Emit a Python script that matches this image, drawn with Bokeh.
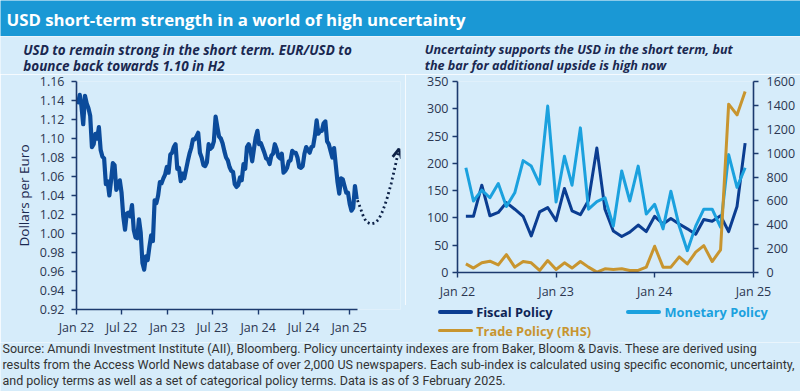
import pandas as pd
from bokeh.plotting import figure
from bokeh.models import (Range1d, LinearAxis, FixedTicker, DatetimeTickFormatter,
                          NumeralTickFormatter, Label, Arrow, OpenHead, Div)
from bokeh.layouts import column, row
from bokeh.embed import file_html
from bokeh.resources import INLINE

# ---------------- data ----------------
eur_usd = [
    # 2022
    1.136, 1.146, 1.134, 1.115,
    1.145, 1.137, 1.132, 1.124,
    1.091, 1.094, 1.105, 1.100,
    1.112, 1.088, 1.081, 1.079, 1.052,
    1.055, 1.040, 1.056, 1.074,
    1.072, 1.046, 1.050, 1.056,
    1.043, 1.018, 1.004, 1.021, 1.022,
    1.018, 1.030, 1.004, 0.996,
    0.995, 1.015, 1.001, 0.969, 0.962,
    0.976, 0.972, 0.986, 0.998,
    0.992, 1.035, 1.032, 1.040,
    1.054, 1.053, 1.058, 1.062, 1.070,
    # 2023
    1.064, 1.083, 1.085, 1.091,
    1.094, 1.068, 1.069, 1.055,
    1.063, 1.058, 1.067, 1.076, 1.084,
    1.090, 1.099, 1.099, 1.102,
    1.106, 1.085, 1.080, 1.072,
    1.071, 1.075, 1.094, 1.089, 1.091,
    1.097, 1.123, 1.112, 1.102,
    1.100, 1.095, 1.087, 1.080,
    1.077, 1.070, 1.066, 1.065, 1.052,
    1.049, 1.051, 1.059, 1.056,
    1.073, 1.068, 1.091, 1.094,
    1.088, 1.076, 1.089, 1.101, 1.108,
    # 2024
    1.094, 1.095, 1.090, 1.085,
    1.079, 1.078, 1.073, 1.082,
    1.084, 1.094, 1.089, 1.081, 1.079,
    1.084, 1.064, 1.066, 1.069,
    1.076, 1.077, 1.087, 1.085, 1.085,
    1.080, 1.070, 1.069, 1.071,
    1.084, 1.091, 1.088, 1.085,
    1.091, 1.092, 1.103, 1.119, 1.105,
    1.108, 1.108, 1.116, 1.118,
    1.097, 1.094, 1.087, 1.080,
    1.090, 1.072, 1.054, 1.042, 1.058,
    1.057, 1.050, 1.043, 1.043,
    # 2025
    1.031, 1.024, 1.027, 1.050, 1.036,
]
eur_dates = pd.date_range("2022-01-07", periods=len(eur_usd), freq="W-FRI")

outlook_dates = pd.to_datetime([
    "2025-02-03", "2025-02-16", "2025-02-28", "2025-03-12", "2025-03-29", "2025-04-14",
    "2025-04-30", "2025-05-16", "2025-06-01", "2025-06-18", "2025-07-04", "2025-07-20"])
outlook_values = [1.035, 1.026, 1.017, 1.012, 1.010, 1.011, 1.015, 1.024, 1.036, 1.052, 1.070, 1.089]

left_x_ticks = ["2022-01-01", "2022-07-01", "2023-01-01", "2023-07-01",
                "2024-01-01", "2024-07-01", "2025-01-01"]
left_y_ticks = [0.92, 0.94, 0.96, 0.98, 1.00, 1.02, 1.04, 1.06, 1.08, 1.10, 1.12, 1.14, 1.16]

months = pd.date_range("2022-02-01", "2024-12-01", freq="MS")
fiscal = [103, 103, 160, 104, 110, 128, 116, 103, 67, 111,
          119, 95, 154, 113, 106, 132, 228, 116, 76, 66,
          74, 87, 75, 103, 89, 99, 89, 80, 70, 97,
          94, 104, 75, 121, 237]
monetary = [192, 131, 151, 137, 163, 121, 146, 205, 195, 162,
            305, 129, 213, 160, 265, 116, 130, 137, 85, 186,
            131, 195, 107, 125, 80, 149, 85, 40, 85, 116,
            116, 83, 216, 156, 192]
trade = [72, 37, 81, 95, 64, 150, 45, 92, 81, 17,
         100, 25, 81, 37, 92, 45, 3, 31, 25, 31,
         17, 17, 45, 220, 45, 45, 131, 72, 170, 225,
         92, 190, 1410, 1320, 1517]
right_x_ticks = ["2022-01-01", "2023-01-01", "2024-01-01", "2025-01-01"]
lhs_ticks = [0, 50, 100, 150, 200, 250, 300, 350]
rhs_ticks = [0, 200, 400, 600, 800, 1000, 1200, 1400, 1600]

title_text = "USD short-term strength in a world of high uncertainty"
left_subtitle = ["USD to remain strong in the short term. EUR/USD to",
                 "bounce back towards 1.10 in H2"]
right_subtitle = ["Uncertainty supports the USD in the short term, but",
                  "the bar for additional upside is high now"]
series_names = ["Fiscal Policy", "Monetary Policy", "Trade Policy (RHS)"]
foot = ["Source: Amundi Investment Institute (AII), Bloomberg. Policy uncertainty indexes are from Baker, Bloom & Davis. These are derived using",
        "results from the Access World News database of over 2,000 US newspapers. Each sub-index is calculated using specific economic, uncertainty,",
        "and policy terms as well as a set of categorical policy terms. Data is as of 3 February 2025."]

# ---------------- style ----------------
BG = "#d6ecfa"
BANNER = "#1a98d5"
EUR = "#0b4b9b"
DOT = "#0d2147"
FISCAL = "#0b3d91"
MONETARY = "#1ba1de"
TRADE = "#c8952f"
FISCAL_TXT = "#0e2455"
AXIS = "#1c3a6e"
TXT = "#1a2850"
TICK = "#2b3650"
FONT = "Open Sans"
W = 800


def ms(d):
    return pd.Timestamp(d).value / 1e6


def style_axis(ax):
    ax.axis_line_color = AXIS
    ax.axis_line_width = 1.6
    ax.major_tick_line_color = AXIS
    ax.major_tick_line_width = 1.4
    ax.major_tick_in = 0
    ax.major_tick_out = 5
    ax.minor_tick_line_color = None
    ax.major_label_text_color = TICK
    ax.major_label_text_font = FONT
    ax.major_label_text_font_size = "12.5px"


def base_fig(**kw):
    p = figure(output_backend="svg", toolbar_location=None,
               background_fill_color=BG, border_fill_color=BG,
               outline_line_color=None, **kw)
    p.grid.visible = False
    return p


def blank_fig(width, height, color=BG):
    p = figure(width=width, height=height, output_backend="svg", toolbar_location=None,
               x_axis_location=None, y_axis_location=None, min_border=0,
               background_fill_color=color, border_fill_color=color,
               outline_line_color=None, x_range=Range1d(0, 1), y_range=Range1d(0, 1))
    p.grid.visible = False
    return p


# ---------------- banner ----------------
pb = blank_fig(W, 36, BANNER)
pb.add_layout(Label(x=6, y=17.5, x_units="screen", y_units="screen", text=title_text,
                    text_baseline="middle", text_color="white", text_font=FONT,
                    text_font_size="16.8px", text_font_style="bold"))

# ---------------- subtitles ----------------
ps = blank_fig(W, 38)
for xs, size, lines in [(22.7, "13.5px", left_subtitle), (424.3, "12.6px", right_subtitle)]:
    for i, t in enumerate(lines):
        ps.add_layout(Label(x=xs, y=25 - 16 * i, x_units="screen", y_units="screen",
                            text=t, text_baseline="middle", text_color=TXT,
                            text_font=FONT, text_font_size=size,
                            text_font_style="bold italic"))

# ---------------- left chart ----------------
x0 = pd.Timestamp("2022-01-01")
x1 = pd.Timestamp("2025-07-26")
pl = base_fig(width=405, height=268, x_axis_type="datetime",
              x_range=Range1d(x0, x1), y_range=Range1d(0.92, 1.16),
              min_border_left=76, min_border_right=5, min_border_top=7, min_border_bottom=33)
pl.line(eur_dates, eur_usd, line_width=4.2, color=EUR, line_join="round")
pl.line(outlook_dates, outlook_values, line_width=2.8, color=DOT, line_dash="2 3")
pl.add_layout(Arrow(end=OpenHead(size=9, line_width=2.8, line_color=DOT),
                    x_start=ms(outlook_dates[-2]), y_start=outlook_values[-2],
                    x_end=ms(outlook_dates[-1]), y_end=outlook_values[-1],
                    line_alpha=0))
pl.xaxis.ticker = FixedTicker(ticks=[ms(t) for t in left_x_ticks])
fmt = "%b %y"
pl.xaxis.formatter = DatetimeTickFormatter(days=fmt, months=fmt, years=fmt)
pl.xaxis.bounds = (ms(x0), ms(eur_dates[-1]) + 4 * 86400000)
pl.yaxis.ticker = FixedTicker(ticks=left_y_ticks)
pl.yaxis.formatter = NumeralTickFormatter(format="0.00")
for ax in (pl.xaxis[0], pl.yaxis[0]):
    style_axis(ax)
pl.xaxis.major_label_standoff = 4
pl.yaxis.major_label_standoff = 7
pl.yaxis.axis_label = "Dollars per Euro"
pl.yaxis.axis_label_text_font = FONT
pl.yaxis.axis_label_text_font_style = "normal"
pl.yaxis.axis_label_text_font_size = "13.5px"
pl.yaxis.axis_label_text_color = TXT
pl.yaxis.axis_label_standoff = 4

# ---------------- right chart ----------------
pr = base_fig(width=395, height=231, x_axis_type="datetime",
              x_range=Range1d(pd.Timestamp("2022-01-01"), pd.Timestamp("2025-01-01")),
              y_range=Range1d(0, 350),
              min_border_left=52, min_border_right=47, min_border_top=7, min_border_bottom=33)
pr.extra_y_ranges = {"rhs": Range1d(0, 1600)}
rax = LinearAxis(y_range_name="rhs", ticker=FixedTicker(ticks=rhs_ticks))
pr.add_layout(rax, "right")
pr.line(months, fiscal, color=FISCAL, line_width=3, line_join="round")
pr.line(months, monetary, color=MONETARY, line_width=3, line_join="round")
pr.line(months, trade, color=TRADE, line_width=3, line_join="round", y_range_name="rhs")
pr.xaxis.ticker = FixedTicker(ticks=[ms(t) for t in right_x_ticks])
pr.xaxis.formatter = DatetimeTickFormatter(days=fmt, months=fmt, years=fmt)
pr.yaxis[0].ticker = FixedTicker(ticks=lhs_ticks)
for ax in (pr.xaxis[0], pr.yaxis[0], rax):
    style_axis(ax)
pr.yaxis[0].major_label_standoff = 4
rax.major_label_standoff = 8

# ---------------- legend strip under the right chart ----------------
legend_layout = [(series_names[0], FISCAL, FISCAL_TXT, 32.7, 0.0),
                 (series_names[1], MONETARY, MONETARY, 221.0, 0.0),
                 (series_names[2], TRADE, TRADE, 32.7, 18.5)]
items = []
for name, col, tcol, lx, ty in legend_layout:
    items.append(
        f'<div style="position:absolute;left:{lx}px;top:{ty}px;height:14px;display:flex;'
        f'align-items:center;white-space:nowrap;color:{tcol};">'
        f'<span style="display:inline-block;width:35px;height:3.5px;border-radius:2px;'
        f'background:{col};margin-right:3.5px;"></span>{name}</div>')
legend_html = ('<div style="position:relative;width:395px;height:37px;'
               "font-family:'Open Sans',sans-serif;font-weight:700;font-size:12.8px;"
               'line-height:14px;">' + "".join(items) + "</div>")
pg = Div(text=legend_html, width=395, height=37, margin=0,
         styles={"background-color": BG})

# ---------------- footnote ----------------
pf = blank_fig(W, 49)
for i, t in enumerate(foot):
    pf.add_layout(Label(x=2, y=43.5 - 16 * i, x_units="screen", y_units="screen",
                        text=t, text_baseline="middle", text_color="#333333",
                        text_font="Roboto", text_font_size="12.5px"))

layout = column(pb, ps, row(pl, column(pr, pg)), pf)
open("out.html", "w").write(file_html(layout, INLINE))
